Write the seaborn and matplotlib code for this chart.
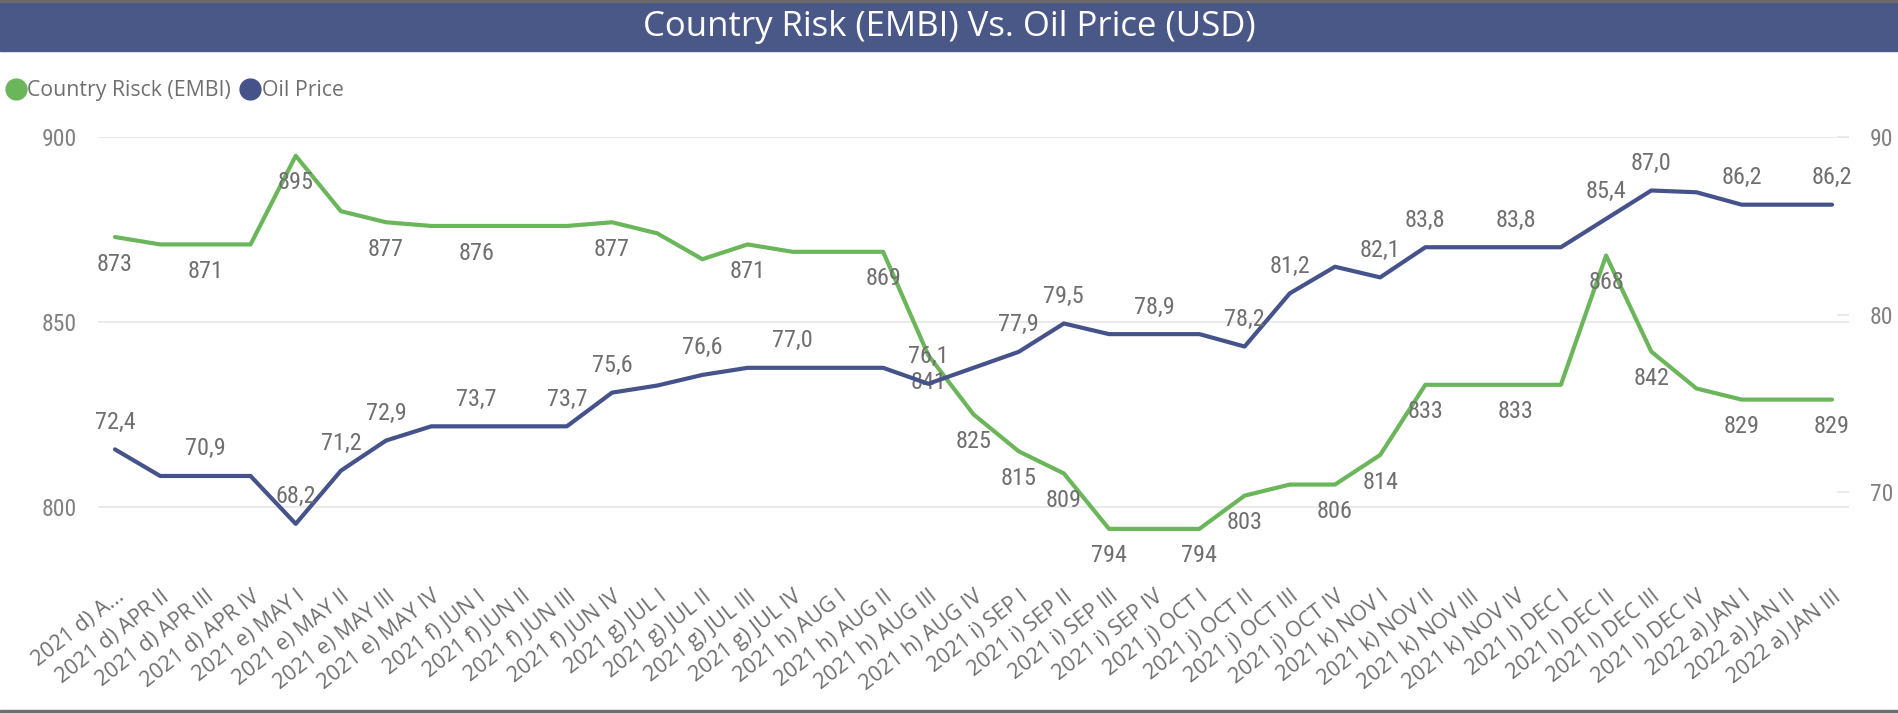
import matplotlib
matplotlib.use("Agg")
import matplotlib.pyplot as plt
from matplotlib import font_manager
from matplotlib.lines import Line2D
from matplotlib.patches import Rectangle
import pandas as pd
import seaborn as sns

# ---- data -------------------------------------------------------------
week_labels = [
    "2021 d) A...", "2021 d) APR II", "2021 d) APR III", "2021 d) APR IV",
    "2021 e) MAY I", "2021 e) MAY II", "2021 e) MAY III", "2021 e) MAY IV",
    "2021 f) JUN I", "2021 f) JUN II", "2021 f) JUN III", "2021 f) JUN IV",
    "2021 g) JUL I", "2021 g) JUL II", "2021 g) JUL III", "2021 g) JUL IV",
    "2021 h) AUG I", "2021 h) AUG II", "2021 h) AUG III", "2021 h) AUG IV",
    "2021 i) SEP I", "2021 i) SEP II", "2021 i) SEP III", "2021 i) SEP IV",
    "2021 j) OCT I", "2021 j) OCT II", "2021 j) OCT III", "2021 j) OCT IV",
    "2021 k) NOV I", "2021 k) NOV II", "2021 k) NOV III", "2021 k) NOV IV",
    "2021 l) DEC I", "2021 l) DEC II", "2021 l) DEC III", "2021 l) DEC IV",
    "2022 a) JAN I", "2022 a) JAN II", "2022 a) JAN III",
]

embi = [873, 871, 871, 871, 895, 880, 877, 876, 876, 876, 876, 877, 874,
        867, 871, 869, 869, 869, 841, 825, 815, 809, 794, 794, 794, 803,
        806, 806, 814, 833, 833, 833, 833, 868, 842, 832, 829, 829, 829]

oil = [72.4, 70.9, 70.9, 70.9, 68.2, 71.2, 72.9, 73.7, 73.7, 73.7, 73.7,
       75.6, 76.0, 76.6, 77.0, 77.0, 77.0, 77.0, 76.1, 77.0, 77.9, 79.5,
       78.9, 78.9, 78.9, 78.2, 81.2, 82.7, 82.1, 83.8, 83.8, 83.8, 83.8,
       85.4, 87.0, 86.9, 86.2, 86.2, 86.2]

# points that carry a value label
embi_labelled = [0, 2, 4, 6, 8, 11, 14, 17, 18, 19, 20, 21, 22, 24, 25, 27,
                 28, 29, 31, 33, 34, 36, 38]
oil_labelled = [0, 2, 4, 5, 6, 8, 10, 11, 13, 15, 18, 20, 21, 23, 25, 26,
                28, 29, 31, 33, 34, 36, 38]

embi_ticks = [800, 850, 900]
oil_ticks = [70, 80, 90]

df = pd.DataFrame({"pos": range(len(week_labels)), "week": week_labels,
                   "embi": embi, "oil": oil})

# ---- styling ----------------------------------------------------------
GREEN = "#6BB65B"
NAVY = "#46538A"
BAR = "#4A5888"
GREY_TXT = "#6F6F6F"
GREY_AXIS = "#808080"
GRID = "#E6E6E6"

sns.set_style("white")
installed = {f.name for f in font_manager.fontManager.ttflist}
UI_FONT = "Open Sans" if "Open Sans" in installed else "DejaVu Sans"
NUM_FONT = next((n for n in ["Liberation Sans Narrow", "Roboto Condensed"]
                 if n in installed), "Roboto")
plt.rcParams["font.family"] = [UI_FONT, "DejaVu Sans"]

W, H = 1899, 713
fig = plt.figure(figsize=(W / 100, H / 100), dpi=100)

# header band and frame lines
fig.patches.append(Rectangle((0, 1 - 50.7 / H), 1, 48.7 / H,
                             transform=fig.transFigure, color=BAR, zorder=0))
fig.patches.append(Rectangle((0, 1 - 2 / H), 1, 2 / H,
                             transform=fig.transFigure, color="#6A6A6A", zorder=0))
fig.patches.append(Rectangle((0, 0), 1, 3 / H,
                             transform=fig.transFigure, color="#6E6E6E", zorder=0))
fig.text(0.5, 1 - 26.5 / H, "Country Risk (EMBI) Vs. Oil Price (USD)",
         ha="center", va="center", color="white", fontsize=25)

# plot area
left, right, top, bottom = 98, 1849, 137.3, 580.6
ax = fig.add_axes([left / W, 1 - bottom / H, (right - left) / W, (bottom - top) / H])
ax2 = ax.twinx()

sns.lineplot(data=df, x="pos", y="embi", ax=ax, color=GREEN, linewidth=3.0,
             zorder=3)
sns.lineplot(data=df, x="pos", y="oil", ax=ax2, color=NAVY, linewidth=3.0,
             zorder=3)

ax.set_xlim(-0.376, len(week_labels) - 1 + 0.376)
ax.set_ylim(780, 900)
ax2.set_ylim(65, 90)

for a in (ax, ax2):
    for s in a.spines.values():
        s.set_visible(False)
    a.set_xlabel("")
    a.set_ylabel("")

ax.set_yticks(embi_ticks)
ax.grid(axis="y", color=GRID, linewidth=1.2)
ax.set_axisbelow(True)
ax.tick_params(axis="y", length=0, pad=15, labelsize=17, labelcolor=GREY_AXIS)
for t in ax.get_yticklabels():
    t.set_fontfamily(NUM_FONT)

ax2.set_yticks(oil_ticks)
ax2.tick_params(axis="y", direction="in", length=9, width=1.2, color=GRID,
                pad=15, labelsize=17, labelcolor=GREY_AXIS)
for t in ax2.get_yticklabels():
    t.set_fontfamily(NUM_FONT)

ax.set_xticks(df["pos"])
ax.set_xticklabels(df["week"], rotation=38, ha="right",
                   rotation_mode="anchor", fontsize=15.5, color=GREY_TXT)
ax.tick_params(axis="x", length=0, pad=4)

# value labels
def fmt(v, decimals):
    return f"{v:.{decimals}f}".replace(".", ",")

for i in embi_labelled:
    ax.annotate(fmt(embi[i], 0), (i, embi[i]), xytext=(0, -19.5),
                textcoords="offset points", ha="center", va="center",
                fontsize=17.5, color=GREY_TXT, family=NUM_FONT, zorder=5)
for i in oil_labelled:
    ax2.annotate(fmt(oil[i], 1), (i, oil[i]), xytext=(0, 19.5),
                 textcoords="offset points", ha="center", va="center",
                 fontsize=17.5, color=GREY_TXT, family=NUM_FONT, zorder=5)

# legend
handles = [Line2D([], [], marker="o", linestyle="none", markersize=15,
                  markerfacecolor=c, markeredgecolor=c) for c in (GREEN, NAVY)]
fig.legend(handles, ["Country Risck (EMBI)", "Oil Price"], ncol=2,
           loc="center left", bbox_to_anchor=(5 / W, 1 - 90.7 / H),
           frameon=False, fontsize=15.3, labelcolor=GREY_TXT,
           handlelength=0.8, handletextpad=0.15, columnspacing=0.5,
           borderpad=0.1, borderaxespad=0)

fig.savefig("out.png", dpi=100)
